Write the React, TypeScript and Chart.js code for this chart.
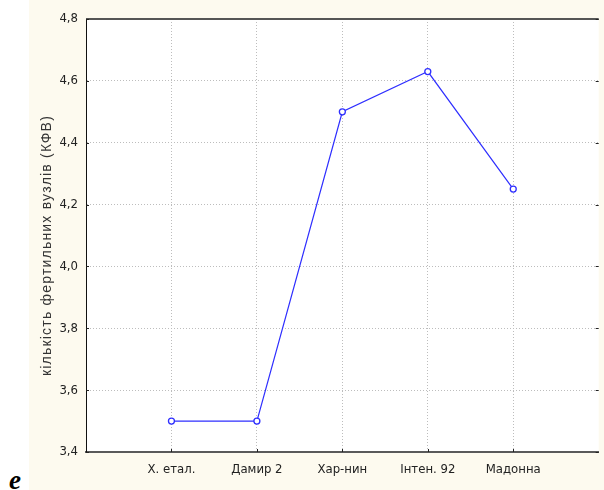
import React, { useEffect, useRef } from "react";
import { Chart, registerables } from "chart.js";

Chart.register(...registerables);

// Varieties along the x axis
const categories: string[] = ["Х. етал.", "Дамир 2", "Хар-нин", "Інтен. 92", "Мадонна"];
// Number of fertile nodes per variety
const nodeCounts: number[] = [3.5, 3.5, 4.5, 4.63, 4.25];
// Y axis range and step
const yMin = 3.4;
const yMax = 4.8;
const yStep = 0.2;
const yTitle = "кількість фертильних вузлів (КФВ)";

const labelFont = "'Liberation Sans Narrow', 'DejaVu Sans Condensed', 'Liberation Sans', Arial, sans-serif";

// Plot background, top border line, inward tick marks and the spaced-out y title
const framePlugin = {
  id: "frame",
  beforeDraw(chart: any) {
    const { ctx, chartArea } = chart;
    ctx.save();
    ctx.fillStyle = "#ffffff";
    ctx.fillRect(chartArea.left, chartArea.top, chartArea.right - chartArea.left, chartArea.bottom - chartArea.top);
    ctx.restore();
  },
  afterDraw(chart: any) {
    const { ctx, chartArea, scales } = chart;
    ctx.save();
    ctx.strokeStyle = "#555555";
    ctx.lineWidth = 2;
    ctx.beginPath();
    ctx.moveTo(chartArea.left, chartArea.top);
    ctx.lineTo(chartArea.right, chartArea.top);
    ctx.stroke();

    ctx.strokeStyle = "#222222";
    ctx.lineWidth = 1;
    ctx.beginPath();
    scales.y.ticks.forEach((t: any) => {
      const y = Math.round(scales.y.getPixelForValue(t.value)) + 0.5;
      ctx.moveTo(chartArea.left, y);
      ctx.lineTo(chartArea.left + 3, y);
      ctx.moveTo(chartArea.right - 3, y);
      ctx.lineTo(chartArea.right, y);
    });
    scales.x.ticks.forEach((t: any) => {
      if (t.value < 1 || t.value > categories.length) return;
      const x = Math.round(scales.x.getPixelForValue(t.value)) + 0.5;
      ctx.moveTo(x, chartArea.bottom);
      ctx.lineTo(x, chartArea.bottom - 3);
    });
    ctx.stroke();

    // y axis title, rotated, with wide letter spacing
    ctx.translate(18, (chartArea.top + chartArea.bottom) / 2 + 10);
    ctx.rotate(-Math.PI / 2);
    (ctx as any).letterSpacing = "1.2px";
    ctx.font = "14px 'Liberation Sans', Arial, sans-serif";
    ctx.fillStyle = "#333333";
    ctx.textAlign = "center";
    ctx.textBaseline = "middle";
    ctx.fillText(yTitle, 0, 0);
    ctx.restore();
  },
};

export default function App() {
  const canvasRef = useRef<HTMLCanvasElement | null>(null);

  useEffect(() => {
    if (!canvasRef.current) return;
    const points = nodeCounts.map((v, i) => ({ x: i + 1, y: v }));
    const chart = new Chart(canvasRef.current, {
      type: "line",
      data: {
        datasets: [
          {
            data: points,
            borderColor: "#2f2fff",
            borderWidth: 1.2,
            pointRadius: 3,
            pointBorderWidth: 1.3,
            pointBackgroundColor: "#ffffff",
            pointBorderColor: "#2f2fff",
            tension: 0,
          },
        ],
      },
      options: {
        animation: false,
        responsive: false,
        layout: { padding: { top: 19, right: 1, left: 0, bottom: 0 } },
        plugins: { legend: { display: false }, tooltip: { enabled: false } },
        scales: {
          x: {
            type: "linear",
            min: 0,
            max: categories.length + 1,
            afterFit(scale: any) {
              scale.height = 38;
            },
            afterBuildTicks(scale: any) {
              scale.ticks = categories.map((_, i) => ({ value: i + 1 }));
            },
            ticks: {
              autoSkip: false,
              maxRotation: 0,
              padding: 10,
              color: "#222222",
              font: { family: labelFont, size: 13 },
              callback: (v: any) => categories[Number(v) - 1] ?? "",
            },
            grid: { color: "#bdbdbd", lineWidth: 1, drawTicks: false },
            border: { color: "#5a5a5a", width: 2, dash: [1, 2] },
          },
          y: {
            min: yMin,
            max: yMax,
            afterFit(scale: any) {
              scale.width = 57;
            },
            ticks: {
              stepSize: yStep,
              padding: 8,
              color: "#222222",
              font: { family: labelFont, size: 13 },
              callback: (v: any) => Number(v).toFixed(1).replace(".", ","),
            },
            grid: {
              color: (ctx: any) =>
                ctx.tick && (Math.abs(ctx.tick.value - yMin) < 1e-6 || Math.abs(ctx.tick.value - yMax) < 1e-6)
                  ? "rgba(0,0,0,0)"
                  : "#bdbdbd",
              lineWidth: 1,
              drawTicks: false,
            },
            border: { color: "#111111", width: 1, dash: [1, 2] },
          },
        },
      },
      plugins: [framePlugin],
    });
    return () => chart.destroy();
  }, []);

  return (
    <div style={{ position: "fixed", left: 0, top: 0, width: 604, height: 490, background: "#ffffff", overflow: "hidden" }}>
      <div
        style={{
          position: "absolute",
          left: 29,
          top: 0,
          width: 575,
          height: 490,
          background: "#fdfaef",
        }}
      >
        <canvas ref={canvasRef} width={575} height={490} style={{ display: "block", width: 575, height: 490 }} />
      </div>
      <div
        style={{
          position: "absolute",
          left: 9,
          top: 467,
          fontFamily: "'Liberation Serif', 'Times New Roman', serif",
          fontWeight: "bold",
          fontStyle: "italic",
          fontSize: 27,
          lineHeight: "27px",
          color: "#000000",
        }}
      >
        e
      </div>
    </div>
  );
}
